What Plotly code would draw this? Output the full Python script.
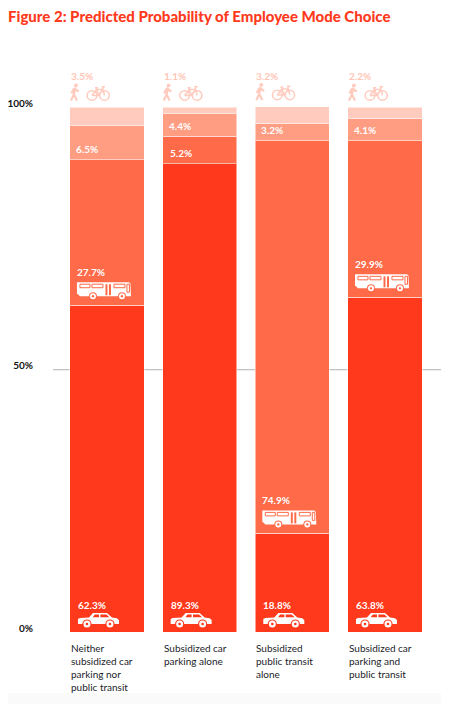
import plotly.graph_objects as go

# data
categories = [
    "Neither<br>subsidized car<br>parking nor<br>public transit",
    "Subsidized car<br>parking alone",
    "Subsidized<br>public transit<br>alone",
    "Subsidized car<br>parking and<br>public transit",
]
car = [62.3, 89.3, 18.8, 63.8]
bus = [27.7, 5.2, 74.9, 29.9]
other = [6.5, 4.4, 3.2, 4.1]
walk_bike = [3.5, 1.1, 3.2, 2.2]
bus_icon = [True, False, True, True]
y_ticks = [0, 50, 100]
y_ticktext = ["0%", "50%", "100%"]

C_CAR = "#FF3A1C"
C_BUS = "#FF6A48"
C_OTHER = "#FF9D83"
C_WALK = "#FFCBBE"
FONT = "Lato"
BW = 0.8

xs = list(range(len(categories)))

fig = go.Figure()
for name, vals, col in [("Car", car, C_CAR), ("Bus", bus, C_BUS),
                        ("Other", other, C_OTHER), ("Walk / bike", walk_bike, C_WALK)]:
    fig.add_trace(go.Bar(x=xs, y=vals, name=name, width=BW,
                         marker=dict(color=col, line=dict(color="rgba(255,255,255,0.5)", width=1)),
                         hoverinfo="y+name"))

shapes = []
annos = []


def poly(pts, dx, dy, closed=True):
    s = "M" + " L".join("%g,%g" % (x + dx, y + dy) for x, y in pts)
    return s + (" Z" if closed else "")


def pshape(path, xa, ya, fill=None, line=None, width=0):
    d = dict(type="path", path=path, xref="x", yref="y", xsizemode="pixel", ysizemode="pixel",
             xanchor=xa, yanchor=ya, line=dict(width=width, color=line or "rgba(0,0,0,0)"))
    if fill:
        d["fillcolor"] = fill
    return d


def circ(cx, cy, r, xa, ya, fill=None, line=None, width=0):
    d = dict(type="circle", xref="x", yref="y", xsizemode="pixel", ysizemode="pixel",
             xanchor=xa, yanchor=ya, x0=cx - r, x1=cx + r, y0=cy - r, y1=cy + r,
             line=dict(width=width, color=line or "rgba(0,0,0,0)"))
    if fill:
        d["fillcolor"] = fill
    return d


def rect(x0, y0, x1, y1, xa, ya, fill=None, line=None, width=0):
    d = dict(type="rect", xref="x", yref="y", xsizemode="pixel", ysizemode="pixel",
             xanchor=xa, yanchor=ya, x0=x0, x1=x1, y0=y0, y1=y1,
             line=dict(width=width, color=line or "rgba(0,0,0,0)"))
    if fill:
        d["fillcolor"] = fill
    return d


def car_icon(xa, ya, dx=8, dy=5):
    body = [(0, 3), (0, 8), (2, 9), (11, 9.5), (15, 14), (29, 14), (34, 9.5), (39, 8.8), (41, 7), (41, 3)]
    out = [pshape(poly(body, dx, dy), xa, ya, fill="white")]
    out.append(pshape(poly([(14.8, 9.8), (16.8, 12.6), (21, 12.6), (21, 9.8)], dx, dy), xa, ya, fill=C_CAR))
    out.append(pshape(poly([(22.4, 9.8), (22.4, 12.6), (28.4, 12.6), (31.4, 9.8)], dx, dy), xa, ya, fill=C_CAR))
    for wx in (9, 32):
        out.append(circ(wx + dx, 3 + dy, 4.6, xa, ya, fill=C_CAR))
        out.append(circ(wx + dx, 3 + dy, 3.5, xa, ya, fill="white"))
        out.append(circ(wx + dx, 3 + dy, 1.3, xa, ya, fill=C_CAR))
    return out


def bus_icon_shapes(xa, ya, dx=7, dy=5):
    body = [(0, 18), (52, 18), (53.5, 16.5), (54, 4), (3, 4), (0, 7)]
    out = [pshape(poly(body, dx, dy), xa, ya, fill="white")]
    for x0, x1 in [(3, 13), (15, 26), (37, 48)]:
        out.append(rect(x0 + dx, 12.5 + dy, x1 + dx, 16 + dy, xa, ya, line=C_BUS, width=1))
    for x0, x1 in [(28.5, 30.5), (32, 34)]:
        out.append(rect(x0 + dx, 5 + dy, x1 + dx, 16 + dy, xa, ya, fill=C_BUS))
    out.append(rect(50 + dx, 8 + dy, 52.5 + dx, 16 + dy, xa, ya, line=C_BUS, width=1))
    for wx in (16, 45):
        out.append(circ(wx + dx, 4 + dy, 4, xa, ya, fill=C_BUS))
        out.append(circ(wx + dx, 4 + dy, 3, xa, ya, fill="white"))
        out.append(circ(wx + dx, 4 + dy, 1.2, xa, ya, fill=C_BUS))
    return out


def walk_bike_icon(xa, ya, dy=7):
    c = C_WALK
    out = []
    walk = (poly([(1, 0), (4, 6), (7, 0)], 0, dy, False) + " " +
            poly([(4, 6), (5, 12)], 0, dy, False) + " " +
            poly([(1.5, 7), (3.5, 11), (5, 12), (7.5, 9.5), (9, 9.5)], 0, dy, False))
    out.append(pshape(walk, xa, ya, line=c, width=2.2))
    out.append(circ(6, 15 + dy, 1.9, xa, ya, fill=c))
    bx = 17
    for wx in (5, 17.5):
        out.append(circ(wx + bx, 5 + dy, 4.8, xa, ya, line=c, width=1.5))
    frame = (poly([(5, 5), (9.5, 11), (16, 11), (17.5, 5)], bx, dy, False) + " " +
             poly([(9.5, 11), (12, 5), (5, 5)], bx, dy, False) + " " +
             poly([(12, 5), (16, 11)], bx, dy, False) + " " +
             poly([(8, 12.8), (11, 12.8)], bx, dy, False) + " " +
             poly([(9.5, 11), (9.2, 12.8)], bx, dy, False) + " " +
             poly([(16, 11), (15.5, 13.6), (18, 13.6)], bx, dy, False))
    out.append(pshape(frame, xa, ya, line=c, width=1.5))
    return out


lab_font = dict(family=FONT, size=10, color="white", weight="bold")
for i in xs:
    left = i - BW / 2
    b_bus = car[i]
    b_other = car[i] + bus[i]
    b_walk = b_other + other[i]
    top = b_walk + walk_bike[i]
    # car
    shapes += car_icon(left, 0)
    annos.append(dict(x=left, y=0, xref="x", yref="y", text="%.1f%%" % car[i], showarrow=False,
                      xanchor="left", yanchor="middle", xshift=6, yshift=27, font=lab_font))
    # bus
    if bus_icon[i]:
        shapes += bus_icon_shapes(left, b_bus)
        annos.append(dict(x=left, y=b_bus, xref="x", yref="y", text="%.1f%%" % bus[i], showarrow=False,
                          xanchor="left", yanchor="middle", xshift=5, yshift=33, font=lab_font))
    else:
        annos.append(dict(x=left, y=b_bus, xref="x", yref="y", text="%.1f%%" % bus[i], showarrow=False,
                          xanchor="left", yanchor="middle", xshift=5, yshift=11, font=lab_font))
    # other
    annos.append(dict(x=left, y=b_other, xref="x", yref="y", text="%.1f%%" % other[i], showarrow=False,
                      xanchor="left", yanchor="middle", xshift=4, yshift=10.5, font=lab_font))
    # walk / bike
    shapes += walk_bike_icon(left, top)
    annos.append(dict(x=left, y=top, xref="x", yref="y", text="%.1f%%" % walk_bike[i], showarrow=False,
                      xanchor="left", yanchor="middle", xshift=-1, yshift=31,
                      font=dict(family=FONT, size=10, color="#FFC6B6", weight="bold")))
    # category label
    annos.append(dict(x=left, y=0, xref="x", yref="y", text=categories[i], showarrow=False,
                      xanchor="left", yanchor="top", align="left", xshift=-1, yshift=-8,
                      font=dict(family=FONT, size=10, color="#1c1c2a")))

# 50% reference line
shapes.append(dict(type="line", xref="paper", yref="y", x0=0, x1=1, y0=50, y1=50,
                   line=dict(color="#b3b3b3", width=1), layer="below"))
# faint bottom band
shapes.append(dict(type="rect", xref="paper", yref="paper", x0=-0.14, x1=1, y0=-0.125, y1=-0.106,
                   fillcolor="#fafafa", line=dict(width=0), layer="below"))

# page body keeps the browser's 8px margin, so the figure is laid out 8px smaller
fig.update_layout(
    barmode="stack",
    width=441, height=696,
    margin=dict(l=45, r=0, t=47, b=72),
    paper_bgcolor="white", plot_bgcolor="white",
    showlegend=False,
    title=dict(text="Figure 2: Predicted Probability of Employee Mode Choice",
               x=0, xref="container", xanchor="left",
               y=1 - 3 / 696, yref="container", yanchor="top", pad=dict(t=0, l=0),
               font=dict(family=FONT, size=15, color="#FF3A1C", weight=900)),
    xaxis=dict(range=[-0.583, 3.69], showticklabels=False, showgrid=False, zeroline=False,
               showline=False, ticks="", fixedrange=True),
    yaxis=dict(range=[0, 110], tickvals=y_ticks, ticktext=y_ticktext, showgrid=False,
               zeroline=False, showline=False, ticks="", ticklabelstandoff=19, ticklabelshift=-4,
               tickfont=dict(family=FONT, size=10, color="#111111", weight="bold"), fixedrange=True),
    shapes=shapes,
    annotations=annos,
)

fig.write_html("out.html")
